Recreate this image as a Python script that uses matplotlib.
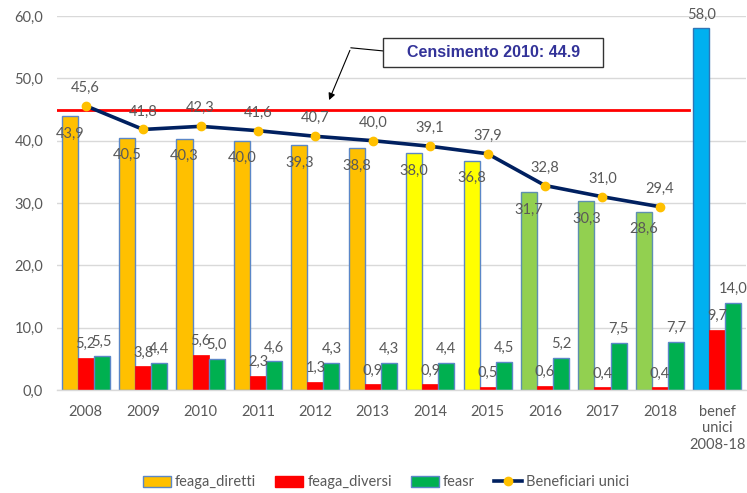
import matplotlib
matplotlib.use('Agg')
from matplotlib import pyplot as plt
from matplotlib.patches import Patch, Rectangle
from matplotlib.lines import Line2D
import numpy as np

plt.rcParams['font.family'] = ['Lato', 'DejaVu Sans']

categorie = ['2008', '2009', '2010', '2011', '2012', '2013', '2014', '2015',
             '2016', '2017', '2018', 'benef\nunici\n2008-18']
feaga_diretti = [43.9, 40.5, 40.3, 40.0, 39.3, 38.8, 38.0, 36.8, 31.7, 30.3, 28.6, 58.0]
feaga_diversi = [5.2, 3.8, 5.6, 2.3, 1.3, 0.9, 0.9, 0.5, 0.6, 0.4, 0.4, 9.7]
feasr = [5.5, 4.4, 5.0, 4.6, 4.3, 4.3, 4.4, 4.5, 5.2, 7.5, 7.7, 14.0]
beneficiari = [45.6, 41.8, 42.3, 41.6, 40.7, 40.0, 39.1, 37.9, 32.8, 31.0, 29.4]
censimento = 44.9

col_diretti = ['#FFC000'] * 6 + ['#FFFF00'] * 2 + ['#92D050'] * 3 + ['#00B0F0']
edge_diretti = ['#5B87C7'] * 8 + ['#5E8FB0'] * 3 + ['#2E75B6']
grigio = '#595959'

def fmt(v):
    return ('%.1f' % v).replace('.', ',')

fig = plt.figure(figsize=(7.47, 4.93), dpi=100)
ax = fig.add_axes([0.0763, 0.209, 0.9224, 0.7585])

x = np.arange(len(categorie))
w = 0.28

ax.bar(x - w, feaga_diretti, w, color=col_diretti, edgecolor=edge_diretti, linewidth=1, zorder=2)
ax.bar(x, feaga_diversi, w, color='#FF0000', edgecolor='#FF0000', linewidth=0.5, zorder=2)
ax.bar(x + w, feasr, w, color='#00B050', edgecolor='#5B87C7', linewidth=1, zorder=2)

xb = x[:len(beneficiari)]
ax.plot(xb, beneficiari, color='#002060', linewidth=2.6, zorder=4)
ax.plot(xb, beneficiari, 'o', color='#FFC000', markersize=6, zorder=5)

ax.plot([-0.5, 10.5], [censimento, censimento], color='#FF0000', linewidth=2, zorder=3)

for i in x:
    v = feaga_diretti[i]
    if i == len(x) - 1:
        ax.annotate(fmt(v), (i - w, v), xytext=(0, 10), textcoords='offset points',
                    ha='center', va='center', fontsize=10.5, color=grigio, zorder=6)
    else:
        ax.annotate(fmt(v), (i - w, v), xytext=(0, -12.5), textcoords='offset points',
                    ha='center', va='center', fontsize=10.5, color=grigio, zorder=6)
    ax.annotate(fmt(feaga_diversi[i]), (i, feaga_diversi[i]), xytext=(0, 10),
                textcoords='offset points', ha='center', va='center',
                fontsize=10.5, color=grigio, zorder=6)
    ax.annotate(fmt(feasr[i]), (i + w, feasr[i]), xytext=(0, 10),
                textcoords='offset points', ha='center', va='center',
                fontsize=10.5, color=grigio, zorder=6)

for i, v in zip(xb, beneficiari):
    ax.annotate(fmt(v), (i, v), xytext=(0, 13), textcoords='offset points',
                ha='center', va='center', fontsize=10.5, color=grigio, zorder=6)

# box censimento con freccia
ax.add_patch(Rectangle((5.18, 51.85), 3.83, 4.65, facecolor='white',
                       edgecolor='#333333', linewidth=1, zorder=7))
ax.text(7.1, 54.2, 'Censimento 2010: 44.9', ha='center', va='center', fontsize=11.5,
        fontweight='bold', color='#333399', family=['Liberation Sans', 'DejaVu Sans'],
        zorder=8)
ax.plot([5.18, 4.62], [54.4, 54.9], color='black', linewidth=0.8, zorder=6)
ax.annotate('', xy=(4.22, 46.1), xytext=(4.62, 54.9),
            arrowprops=dict(arrowstyle='-|>', color='black', lw=0.8, mutation_scale=10), zorder=6)

ax.set_xlim(-0.5, 11.5)
ax.set_ylim(0, 60)
ax.set_yticks(np.arange(0, 61, 10))
ax.set_yticklabels([fmt(v) for v in np.arange(0, 61, 10)])
ax.set_xticks(x)
ax.set_xticklabels(categorie)
ax.tick_params(axis='both', length=0, labelsize=10.5, labelcolor=grigio)
ax.tick_params(axis='y', pad=10)
ax.tick_params(axis='x', pad=11)
ax.grid(axis='y', color='#D9D9D9', linewidth=1, zorder=0)
ax.set_axisbelow(True)
for s in ['top', 'right', 'left']:
    ax.spines[s].set_visible(False)
ax.spines['bottom'].set_color('#D9D9D9')
ax.spines['bottom'].set_linewidth(1)

handles = [Patch(facecolor='#FFC000', edgecolor='#5B87C7', label='feaga_diretti'),
           Patch(facecolor='#FF0000', edgecolor='#FF0000', label='feaga_diversi'),
           Patch(facecolor='#00B050', edgecolor='#5B87C7', label='feasr'),
           Line2D([0], [0], color='#002060', linewidth=2.6, marker='o',
                  markerfacecolor='#FFC000', markeredgecolor='#FFC000', markersize=6,
                  label='Beneficiari unici')]
leg = fig.legend(handles=handles, loc='center', bbox_to_anchor=(0.517, 0.022), ncol=4,
                 frameon=False, fontsize=10.5, handlelength=1.9, handleheight=0.8,
                 handletextpad=0.3, columnspacing=1.3)
for t in leg.get_texts():
    t.set_color(grigio)

fig.savefig('out.png', dpi=100)
